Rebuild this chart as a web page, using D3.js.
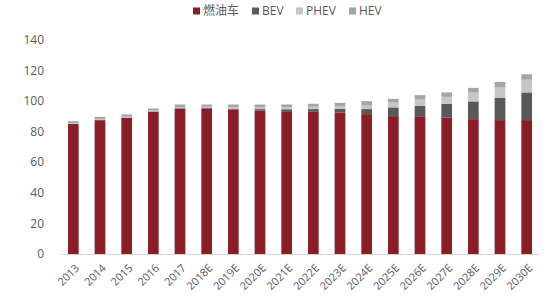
<!DOCTYPE html>
<html>
<head>
<meta charset="utf-8">
<script src="https://cdn.jsdelivr.net/npm/d3@7"></script>
<style>
    body { margin: 0; background: #fff; }
    text { font-family: "Open Sans", "Noto Sans CJK SC", sans-serif; fill: #595959; }
</style>
</head>
<body>
<script>
var years = ['2013', '2014', '2015', '2016', '2017', '2018E', '2019E', '2020E', '2021E',
    '2022E', '2023E', '2024E', '2025E', '2026E', '2027E', '2028E', '2029E', '2030E'];

// stacked from the bottom: fuel, BEV, PHEV, HEV
var fuel = [85, 87.5, 89, 93, 95, 95, 94.5, 93.8, 93.4, 93, 92.6, 91.5, 90.2, 89.7, 89.3, 88.2, 87.6, 87.6];
var bev  = [0.1, 0.2, 0.2, 0.3, 0.4, 0.5, 0.6, 1.0, 1.3, 1.8, 2.4, 3.3, 5.7, 7.2, 8.9, 11.6, 14.6, 18.1];
var phev = [0.5, 0.5, 0.6, 0.6, 0.7, 0.8, 1.0, 1.2, 1.3, 1.5, 1.8, 2.3, 3.2, 4.2, 4.6, 5.8, 6.8, 8.3];
var hev  = [1.3, 1.5, 1.5, 1.3, 1.7, 1.5, 1.7, 1.8, 1.8, 2.0, 2.1, 2.9, 2.4, 2.8, 2.9, 3.1, 3.6, 3.6];

var seriesNames = ['燃油车', 'BEV', 'PHEV', 'HEV'];
var yTicks = [0, 20, 40, 60, 80, 100, 120, 140];

var width = 555,
    height = 299;

var colors = ['#8a1d25', '#595959', '#c9c4c6', '#a5a5a5'];

var svg = d3.select('body')
    .append('svg')
    .attr('width', width)
    .attr('height', height);

var rows = years.map((y, i) => ({
    year: y, s0: fuel[i], s1: bev[i], s2: phev[i], s3: hev[i]
}));

var stack = d3.stack().keys(['s0', 's1', 's2', 's3']);
var layers = stack(rows);

var x = d3.scaleBand()
    .domain(years)
    .range([60, 540])
    .paddingInner(0.6)
    .paddingOuter(0.3);

var y = d3.scaleLinear()
    .domain([0, 140])
    .range([254, 40]);

// y labels, no axis line
svg.append('g')
    .selectAll('text')
    .data(yTicks).enter()
    .append('text')
    .attr('x', 44)
    .attr('y', d => y(d))
    .attr('dy', '0.35em')
    .attr('text-anchor', 'end')
    .style('font-size', '12px')
    .text(d => d);

svg.append('g')
    .selectAll('g')
    .data(layers).enter()
    .append('g')
    .attr('fill', (d, i) => colors[i])
    .selectAll('rect')
    .data(d => d).enter()
    .append('rect')
    .attr('x', d => x(d.data.year))
    .attr('width', x.bandwidth())
    .attr('y', d => y(d[1]))
    .attr('height', d => y(d[0]) - y(d[1]));

svg.append('line')
    .attr('x1', 60)
    .attr('x2', 540)
    .attr('y1', y(0) + 0.5)
    .attr('y2', y(0) + 0.5)
    .attr('stroke', '#d9d9d9');

svg.append('g')
    .selectAll('text')
    .data(years).enter()
    .append('text')
    .attr('transform', d => 'translate(' + (x(d) + x.bandwidth() / 2 + 4) + ',' + 266 + ') rotate(-45)')
    .attr('text-anchor', 'end')
    .attr('dy', '0.35em')
    .style('font-size', '11px')
    .text(d => d);

// legend
var legendX = [193, 252, 296, 349];
var legend = svg.append('g')
    .selectAll('g')
    .data(seriesNames).enter()
    .append('g')
    .attr('transform', (d, i) => 'translate(' + legendX[i] + ',11)');

legend.append('rect')
    .attr('x', 0)
    .attr('y', -3.5)
    .attr('width', 7)
    .attr('height', 7)
    .attr('fill', (d, i) => colors[i]);

legend.append('text')
    .attr('x', 10)
    .attr('dy', '0.35em')
    .style('font-size', '12px')
    .text(d => d);
</script>
</body>
</html>
